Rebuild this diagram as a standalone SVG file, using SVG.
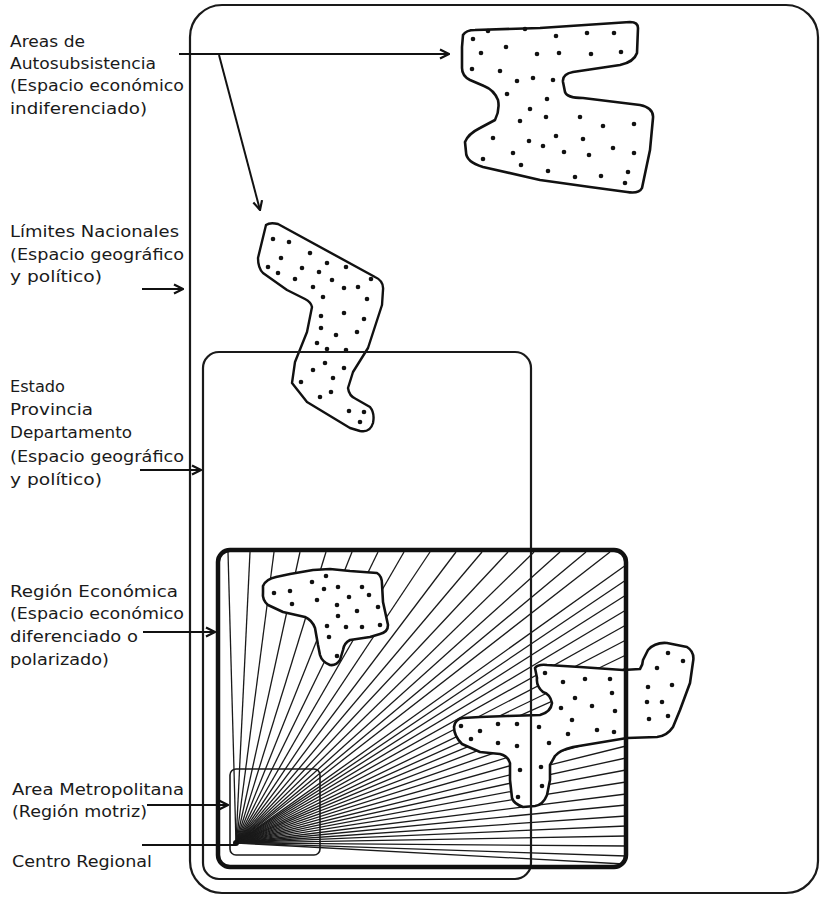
<svg xmlns="http://www.w3.org/2000/svg" width="820" height="900" viewBox="0 0 820 900">
<defs>
<style>
.bg{fill:#fff}
.frame{fill:none;stroke:#1a1a1a;stroke-width:2.2}
.thick{fill:none;stroke:#111;stroke-width:4.5}
.thin{fill:none;stroke:#1a1a1a;stroke-width:1.6}
.blob{fill:#fff;stroke:#111;stroke-width:2.6;stroke-linejoin:round}
.blobn{fill:none;stroke:#111;stroke-width:2.4;stroke-linejoin:round}
.dot{fill:#111}
.ray{stroke:#1a1a1a;stroke-width:1.3}
.con{fill:none;stroke:#111;stroke-width:2}
.lbl{font-family:"DejaVu Sans","Liberation Sans",sans-serif;font-size:15.5px;fill:#1a1a1a}
</style>
<marker id="arr" viewBox="0 0 12 12" refX="11" refY="6" markerWidth="12" markerHeight="12" markerUnits="userSpaceOnUse" orient="auto">
<path d="M2,1.5 L11,6 L2,10.5" fill="none" stroke="#111" stroke-width="2.2" stroke-linejoin="miter"/>
</marker>
</defs>
<rect class="bg" x="0" y="0" width="820" height="900"/>

<g id="radial">
<line class="ray" x1="236" y1="843" x2="228" y2="552"/>
<line class="ray" x1="236" y1="843" x2="250" y2="552"/>
<line class="ray" x1="236" y1="843" x2="274" y2="552"/>
<line class="ray" x1="236" y1="843" x2="300" y2="552"/>
<line class="ray" x1="236" y1="843" x2="326" y2="552"/>
<line class="ray" x1="236" y1="843" x2="352" y2="552"/>
<line class="ray" x1="236" y1="843" x2="378" y2="552"/>
<line class="ray" x1="236" y1="843" x2="404" y2="552"/>
<line class="ray" x1="236" y1="843" x2="430" y2="552"/>
<line class="ray" x1="236" y1="843" x2="456" y2="552"/>
<line class="ray" x1="236" y1="843" x2="482" y2="552"/>
<line class="ray" x1="236" y1="843" x2="508" y2="552"/>
<line class="ray" x1="236" y1="843" x2="534" y2="552"/>
<line class="ray" x1="236" y1="843" x2="560" y2="552"/>
<line class="ray" x1="236" y1="843" x2="586" y2="552"/>
<line class="ray" x1="236" y1="843" x2="610" y2="552"/>
<line class="ray" x1="236" y1="843" x2="626" y2="565"/>
<line class="ray" x1="236" y1="843" x2="626" y2="580"/>
<line class="ray" x1="236" y1="843" x2="626" y2="595"/>
<line class="ray" x1="236" y1="843" x2="626" y2="610"/>
<line class="ray" x1="236" y1="843" x2="626" y2="625"/>
<line class="ray" x1="236" y1="843" x2="626" y2="640"/>
<line class="ray" x1="236" y1="843" x2="626" y2="655"/>
<line class="ray" x1="236" y1="843" x2="626" y2="668"/>
<line class="ray" x1="236" y1="843" x2="626" y2="681"/>
<line class="ray" x1="236" y1="843" x2="626" y2="694"/>
<line class="ray" x1="236" y1="843" x2="626" y2="707"/>
<line class="ray" x1="236" y1="843" x2="626" y2="720"/>
<line class="ray" x1="236" y1="843" x2="626" y2="733"/>
<line class="ray" x1="236" y1="843" x2="626" y2="746"/>
<line class="ray" x1="236" y1="843" x2="626" y2="758"/>
<line class="ray" x1="236" y1="843" x2="626" y2="770"/>
<line class="ray" x1="236" y1="843" x2="626" y2="782"/>
<line class="ray" x1="236" y1="843" x2="626" y2="794"/>
<line class="ray" x1="236" y1="843" x2="626" y2="805"/>
<line class="ray" x1="236" y1="843" x2="626" y2="816"/>
<line class="ray" x1="236" y1="843" x2="626" y2="826"/>
<line class="ray" x1="236" y1="843" x2="626" y2="836"/>
<line class="ray" x1="236" y1="843" x2="626" y2="846"/>
<line class="ray" x1="236" y1="843" x2="626" y2="856"/>
<line class="ray" x1="236" y1="843" x2="624" y2="864"/>
<circle class="dot" cx="236" cy="843" r="3"/>
</g>

<g id="blob-autosubsistencia">
<path class="blob" d="M463,35 Q466,30 475,30 L540,28 L630,22 Q638,22 638,28 L637,53 Q634,62 620,65 L573,72 Q562,74 563,82 L565,92 Q567,98 583,98 L640,105 Q654,108 653,118 L650,150 L642,188 Q639,194 627,192 L590,187 L540,180 L483,167 Q466,162 466,152 L465,142 Q468,134 480,128 L495,120 Q500,110 498,100 Q494,90 484,86 L470,80 Q462,76 462,68 L462,47 Z"/>
<circle class="dot" cx="488" cy="31" r="2.3"/><circle class="dot" cx="525" cy="29" r="2.3"/><circle class="dot" cx="556" cy="36" r="2.3"/><circle class="dot" cx="587" cy="33" r="2.3"/><circle class="dot" cx="614" cy="33" r="2.3"/>
<circle class="dot" cx="473" cy="39" r="2.3"/><circle class="dot" cx="506" cy="47" r="2.3"/><circle class="dot" cx="481" cy="53" r="2.3"/><circle class="dot" cx="537" cy="54" r="2.3"/><circle class="dot" cx="559" cy="53" r="2.3"/><circle class="dot" cx="591" cy="54" r="2.3"/><circle class="dot" cx="621" cy="52" r="2.3"/>
<circle class="dot" cx="472" cy="69" r="2.3"/><circle class="dot" cx="500" cy="71" r="2.3"/><circle class="dot" cx="517" cy="81" r="2.3"/><circle class="dot" cx="533" cy="78" r="2.3"/><circle class="dot" cx="553" cy="80" r="2.3"/>
<circle class="dot" cx="507" cy="94" r="2.3"/><circle class="dot" cx="547" cy="99" r="2.3"/><circle class="dot" cx="530" cy="109" r="2.3"/><circle class="dot" cx="546" cy="117" r="2.3"/><circle class="dot" cx="580" cy="117" r="2.3"/><circle class="dot" cx="603" cy="126" r="2.3"/><circle class="dot" cx="634" cy="124" r="2.3"/>
<circle class="dot" cx="520" cy="121" r="2.3"/><circle class="dot" cx="493" cy="138" r="2.3"/><circle class="dot" cx="529" cy="141" r="2.3"/><circle class="dot" cx="556" cy="136" r="2.3"/><circle class="dot" cx="583" cy="139" r="2.3"/>
<circle class="dot" cx="543" cy="146" r="2.3"/><circle class="dot" cx="564" cy="152" r="2.3"/><circle class="dot" cx="589" cy="155" r="2.3"/><circle class="dot" cx="613" cy="148" r="2.3"/><circle class="dot" cx="634" cy="153" r="2.3"/>
<circle class="dot" cx="483" cy="159" r="2.3"/><circle class="dot" cx="513" cy="153" r="2.3"/><circle class="dot" cx="521" cy="165" r="2.3"/><circle class="dot" cx="548" cy="171" r="2.3"/><circle class="dot" cx="575" cy="177" r="2.3"/><circle class="dot" cx="601" cy="176" r="2.3"/><circle class="dot" cx="628" cy="172" r="2.3"/><circle class="dot" cx="625" cy="183" r="2.3"/>
</g>

<g id="blob-limites">
<path class="blobn" d="M266,225 Q270,222 278,224 L375,277 Q384,281 383,290 L382,305 L368,348 L353,372 L348,388 Q349,396 356,399 L370,407 Q375,413 373,423 Q370,433 360,431 L350,428 L307,402 L292,383 L295,362 L307,332 L312,307 Q311,302 305,299 L287,290 L263,273 Q258,268 258,258 Z"/>
<circle class="dot" cx="273" cy="239" r="2.3"/><circle class="dot" cx="289" cy="242" r="2.3"/><circle class="dot" cx="310" cy="253" r="2.3"/><circle class="dot" cx="281" cy="258" r="2.3"/><circle class="dot" cx="268" cy="267" r="2.3"/><circle class="dot" cx="302" cy="268" r="2.3"/><circle class="dot" cx="327" cy="263" r="2.3"/><circle class="dot" cx="346" cy="267" r="2.3"/>
<circle class="dot" cx="278" cy="273" r="2.3"/><circle class="dot" cx="319" cy="272" r="2.3"/><circle class="dot" cx="295" cy="279" r="2.3"/><circle class="dot" cx="332" cy="280" r="2.3"/><circle class="dot" cx="344" cy="288" r="2.3"/><circle class="dot" cx="358" cy="287" r="2.3"/><circle class="dot" cx="371" cy="279" r="2.3"/>
<circle class="dot" cx="313" cy="287" r="2.3"/><circle class="dot" cx="323" cy="297" r="2.3"/><circle class="dot" cx="367" cy="299" r="2.3"/><circle class="dot" cx="344" cy="313" r="2.3"/><circle class="dot" cx="321" cy="316" r="2.3"/><circle class="dot" cx="364" cy="319" r="2.3"/><circle class="dot" cx="321" cy="328" r="2.3"/><circle class="dot" cx="336" cy="335" r="2.3"/><circle class="dot" cx="357" cy="332" r="2.3"/>
<circle class="dot" cx="317" cy="343" r="2.3"/><circle class="dot" cx="327" cy="349" r="2.3"/><circle class="dot" cx="346" cy="350" r="2.3"/><circle class="dot" cx="325" cy="363" r="2.3"/><circle class="dot" cx="313" cy="370" r="2.3"/><circle class="dot" cx="344" cy="368" r="2.3"/><circle class="dot" cx="333" cy="378" r="2.3"/><circle class="dot" cx="301" cy="382" r="2.3"/>
<circle class="dot" cx="331" cy="392" r="2.3"/><circle class="dot" cx="320" cy="397" r="2.3"/><circle class="dot" cx="349" cy="411" r="2.3"/><circle class="dot" cx="364" cy="412" r="2.3"/><circle class="dot" cx="360" cy="422" r="2.3"/>
</g>

<g id="blob-region-left">
<path class="blob" d="M263,586 Q266,579 276,577 L290,574 L313,570 L330,569 L350,571 L377,573 Q382,576 382,584 L383,602 L388,625 Q388,632 380,634 L370,637 L350,640 Q344,643 343,650 L340,660 Q336,666 330,665 Q322,662 320,655 L318,645 L315,628 Q312,620 305,617 L283,612 L268,605 Q262,600 263,592 Z"/>
<circle class="dot" cx="274" cy="593" r="2.3"/><circle class="dot" cx="290" cy="591" r="2.3"/><circle class="dot" cx="292" cy="604" r="2.3"/><circle class="dot" cx="312" cy="582" r="2.3"/><circle class="dot" cx="326" cy="576" r="2.3"/><circle class="dot" cx="324" cy="589" r="2.3"/><circle class="dot" cx="338" cy="587" r="2.3"/>
<circle class="dot" cx="362" cy="587" r="2.3"/><circle class="dot" cx="349" cy="597" r="2.3"/><circle class="dot" cx="369" cy="595" r="2.3"/><circle class="dot" cx="317" cy="600" r="2.3"/><circle class="dot" cx="337" cy="605" r="2.3"/><circle class="dot" cx="357" cy="611" r="2.3"/><circle class="dot" cx="378" cy="607" r="2.3"/>
<circle class="dot" cx="338" cy="616" r="2.3"/><circle class="dot" cx="327" cy="626" r="2.3"/><circle class="dot" cx="346" cy="627" r="2.3"/><circle class="dot" cx="362" cy="627" r="2.3"/><circle class="dot" cx="380" cy="625" r="2.3"/><circle class="dot" cx="329" cy="637" r="2.3"/><circle class="dot" cx="337" cy="656" r="2.3"/>
</g>

<g id="blob-region-right">
<path class="blob" d="M535,668 Q538,664 547,665 L580,667 L623,670 L640,669 Q643,664 643,660 L648,650 Q655,642 667,643 L687,647 Q695,652 693,662 L690,683 L680,710 L673,727 Q667,736 657,737 L627,738 L597,743 L573,747 Q560,750 555,756 L550,765 L550,780 L547,795 Q543,805 535,806 L523,807 Q514,804 512,798 L510,780 L510,763 Q508,756 500,754 L480,752 L462,744 Q454,736 454,727 Q455,719 463,718 L480,717 L507,716 L540,715 Q551,712 552,703 Q550,694 543,692 Q536,686 537,678 Z"/>
<circle class="dot" cx="545" cy="673" r="2.3"/><circle class="dot" cx="563" cy="682" r="2.3"/><circle class="dot" cx="585" cy="679" r="2.3"/><circle class="dot" cx="610" cy="679" r="2.3"/><circle class="dot" cx="612" cy="693" r="2.3"/><circle class="dot" cx="575" cy="698" r="2.3"/><circle class="dot" cx="592" cy="706" r="2.3"/><circle class="dot" cx="615" cy="711" r="2.3"/>
<circle class="dot" cx="561" cy="708" r="2.3"/><circle class="dot" cx="572" cy="720" r="2.3"/><circle class="dot" cx="539" cy="727" r="2.3"/><circle class="dot" cx="568" cy="734" r="2.3"/><circle class="dot" cx="597" cy="730" r="2.3"/><circle class="dot" cx="614" cy="732" r="2.3"/><circle class="dot" cx="549" cy="743" r="2.3"/>
<circle class="dot" cx="461" cy="726" r="2.3"/><circle class="dot" cx="480" cy="731" r="2.3"/><circle class="dot" cx="498" cy="724" r="2.3"/><circle class="dot" cx="517" cy="724" r="2.3"/><circle class="dot" cx="471" cy="739" r="2.3"/><circle class="dot" cx="498" cy="743" r="2.3"/><circle class="dot" cx="517" cy="746" r="2.3"/>
<circle class="dot" cx="520" cy="770" r="2.3"/><circle class="dot" cx="541" cy="767" r="2.3"/><circle class="dot" cx="542" cy="786" r="2.3"/><circle class="dot" cx="518" cy="797" r="2.3"/>
<circle class="dot" cx="668" cy="653" r="2.3"/><circle class="dot" cx="683" cy="661" r="2.3"/><circle class="dot" cx="657" cy="668" r="2.3"/><circle class="dot" cx="648" cy="687" r="2.3"/><circle class="dot" cx="672" cy="685" r="2.3"/><circle class="dot" cx="647" cy="702" r="2.3"/><circle class="dot" cx="662" cy="702" r="2.3"/><circle class="dot" cx="649" cy="719" r="2.3"/><circle class="dot" cx="668" cy="716" r="2.3"/>
</g>

<g id="limites-nacionales">
<rect class="frame" x="190" y="5" width="628" height="888" rx="32"/>
</g>
<g id="estado">
<rect class="frame" x="203" y="352" width="328" height="527" rx="16"/>
</g>
<g id="region-economica">
<rect class="thick" x="218" y="550" width="408" height="317" rx="12"/>
</g>
<g id="area-metropolitana">
<rect class="thin" x="230" y="769" width="90" height="86" rx="6"/>
</g>

<g id="connectors">
<line class="con" x1="179" y1="54" x2="449" y2="54" marker-end="url(#arr)"/>
<line class="con" x1="219" y1="55" x2="260" y2="210" marker-end="url(#arr)"/>
<line class="con" x1="142" y1="289" x2="183" y2="289" marker-end="url(#arr)"/>
<line class="con" x1="140" y1="470" x2="201" y2="470" marker-end="url(#arr)"/>
<line class="con" x1="143" y1="632" x2="215" y2="632" marker-end="url(#arr)"/>
<line class="con" x1="147" y1="805" x2="228" y2="805" marker-end="url(#arr)"/>
<line class="con" x1="142" y1="845" x2="236" y2="845"/>
</g>

<g id="labels">
<text class="lbl" x="10" y="47" textLength="75" lengthAdjust="spacingAndGlyphs">Areas de</text>
<text class="lbl" x="10" y="69" textLength="146" lengthAdjust="spacingAndGlyphs">Autosubsistencia</text>
<text class="lbl" x="10" y="91" textLength="174" lengthAdjust="spacingAndGlyphs">(Espacio económico</text>
<text class="lbl" x="10" y="114" textLength="137" lengthAdjust="spacingAndGlyphs">indiferenciado)</text>
<text class="lbl" x="10" y="237" textLength="169" lengthAdjust="spacingAndGlyphs">Límites Nacionales</text>
<text class="lbl" x="10" y="260" textLength="174" lengthAdjust="spacingAndGlyphs">(Espacio geográfico</text>
<text class="lbl" x="10" y="282" textLength="92" lengthAdjust="spacingAndGlyphs">y político)</text>
<text class="lbl" x="10" y="392" textLength="55" lengthAdjust="spacingAndGlyphs">Estado</text>
<text class="lbl" x="10" y="415" textLength="83" lengthAdjust="spacingAndGlyphs">Provincia</text>
<text class="lbl" x="10" y="438" textLength="122" lengthAdjust="spacingAndGlyphs">Departamento</text>
<text class="lbl" x="10" y="462" textLength="174" lengthAdjust="spacingAndGlyphs">(Espacio geográfico</text>
<text class="lbl" x="10" y="485" textLength="92" lengthAdjust="spacingAndGlyphs">y político)</text>
<text class="lbl" x="10" y="597" textLength="168" lengthAdjust="spacingAndGlyphs">Región Económica</text>
<text class="lbl" x="10" y="619" textLength="174" lengthAdjust="spacingAndGlyphs">(Espacio económico</text>
<text class="lbl" x="10" y="642" textLength="128" lengthAdjust="spacingAndGlyphs">diferenciado o</text>
<text class="lbl" x="10" y="665" textLength="99" lengthAdjust="spacingAndGlyphs">polarizado)</text>
<text class="lbl" x="12" y="795" textLength="172" lengthAdjust="spacingAndGlyphs">Area Metropolitana</text>
<text class="lbl" x="12" y="817" textLength="135" lengthAdjust="spacingAndGlyphs">(Región motriz)</text>
<text class="lbl" x="12" y="867" textLength="140" lengthAdjust="spacingAndGlyphs">Centro Regional</text>
</g>
</svg>
